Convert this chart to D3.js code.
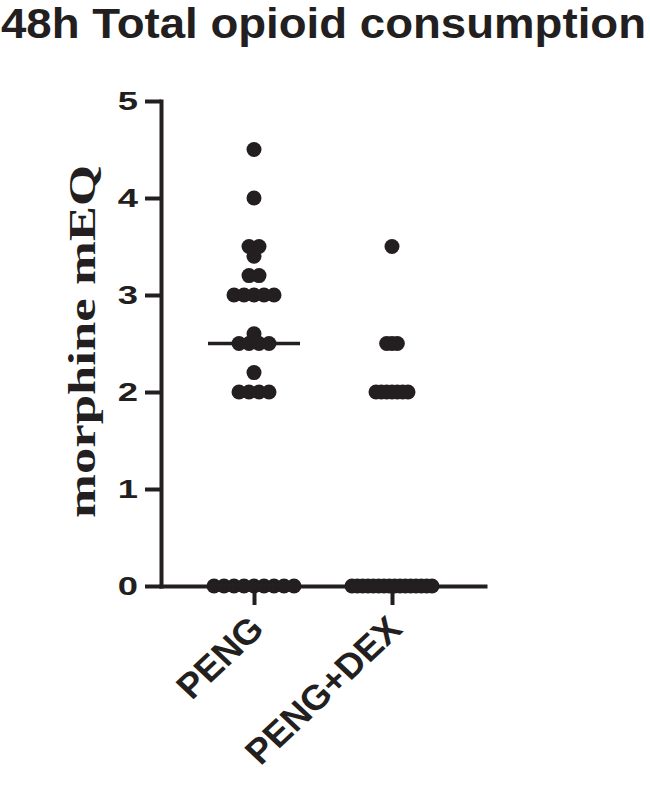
<!DOCTYPE html>
<html>
<head>
<meta charset="utf-8">
<script src="https://cdn.jsdelivr.net/npm/d3@7"></script>
<style>
  body { margin: 0; background: #fff; }
  svg { display: block; }
</style>
</head>
<body>
<div id="chart"></div>
<script>
// data (morphine mEQ, 48h)
const groups = ["PENG", "PENG+DEX"]
const peng = [4.5, 4.0, 3.5, 3.5, 3.4, 3.2, 3.2, 3.0, 3.0, 3.0, 3.0, 3.0, 2.6,
  2.5, 2.5, 2.5, 2.5, 2.2, 2.0, 2.0, 2.0, 2.0, 0, 0, 0, 0, 0, 0, 0, 0, 0]
const pengDex = [3.5, 2.5, 2.5, 2.5, 2.0, 2.0, 2.0, 2.0, 2.0, 2.0, 2.0,
  0, 0, 0, 0, 0, 0, 0, 0, 0, 0, 0, 0, 0, 0, 0, 0]
const yTicks = [0, 1, 2, 3, 4, 5]

const width = 650, height = 791
const ink = "#231f20"
const r = 7.5

const svg = d3.select("#chart").append("svg")
  .attr("width", width)
  .attr("height", height)

const yScale = d3.scaleLinear().domain([0, 5]).range([586, 101])
const xScale = d3.scalePoint().domain(groups).range([161, 485]).padding(0.674)

/* title + y label */
svg.append("text")
  .attr("x", 1).attr("y", 38)
  .attr("font-family", "Liberation Sans, Arial, sans-serif")
  .attr("font-weight", "bold")
  .attr("font-size", 43)
  .attr("textLength", 645)
  .attr("lengthAdjust", "spacingAndGlyphs")
  .attr("fill", ink)
  .text("48h Total opioid consumption")

svg.append("text")
  .attr("transform", `translate(95,${(165 + 518) / 2}) rotate(-90)`)
  .attr("text-anchor", "middle")
  .attr("font-family", "Liberation Serif, Times New Roman, serif")
  .attr("font-weight", "bold")
  .attr("font-size", 37)
  .attr("textLength", 353)
  .attr("lengthAdjust", "spacingAndGlyphs")
  .attr("fill", ink)
  .text("morphine mEQ")

/* axes */
const yAxis = d3.axisLeft(yScale).tickValues(yTicks).tickFormat(d3.format("d"))
  .tickSize(16).tickPadding(6).tickSizeOuter(0)
const xAxis = d3.axisBottom(xScale).tickSize(19).tickSizeOuter(0).tickFormat("")

const gy = svg.append("g").attr("transform", "translate(161,0)").call(yAxis)
const gx = svg.append("g").attr("transform", "translate(0,586)").call(xAxis)

for (const g of [gx, gy]) {
  g.select(".domain").attr("stroke", ink).attr("stroke-width", 4).attr("stroke-linecap", "square")
  g.selectAll(".tick line").attr("stroke", ink).attr("stroke-width", 4)
}
// digits in the figure are drawn wide, so stretch them sideways
const stretch = 1.4
gy.selectAll(".tick text")
  .attr("x", -23 / stretch)
  .attr("transform", `scale(${stretch},1)`)
  .attr("font-family", "Liberation Sans, Arial, sans-serif")
  .attr("font-weight", "bold")
  .attr("font-size", 26)
  .attr("fill", ink)

// rotated group labels
svg.selectAll(".glabel")
  .data(groups)
  .enter().append("text")
  .attr("class", "glabel")
  .attr("transform", d => `translate(${xScale(d) + 12},${631}) scale(1.06,1) rotate(-45)`)
  .attr("text-anchor", "end")
  .attr("font-family", "Liberation Sans, Arial, sans-serif")
  .attr("font-weight", "bold")
  .attr("font-size", 35)
  .attr("fill", ink)
  .text(d => d)

/* dot layout: each row of equal values is laid out as a centred block,
   shifted sideways if it hits a row already placed */
function swarm(values, cx) {
  const rows = d3.groups(values, v => v).sort((a, b) => b[0] - a[0])
  const maxRow = d3.max(rows, d => d[1].length)
  const step = Math.min(10, 80 / Math.max(1, maxRow - 1))
  const placed = []
  const out = []
  rows.forEach(([v, list]) => {
    const n = list.length
    const y = yScale(v)
    let shift = 0
    for (let k = 0; k < 40; k++) {
      const c = (k % 2 ? 1 : -1) * Math.ceil(k / 2) * step / 2
      const xs = d3.range(n).map(i => cx + c + (i - (n - 1) / 2) * step)
      const hit = xs.some(x => placed.some(p => Math.hypot(p.x - x, p.y - y) < 10))
      if (!hit) { shift = c; break }
    }
    const xs = d3.range(n).map(i => cx + shift + (i - (n - 1) / 2) * step)
    xs.forEach(x => { out.push({ x, y, v }) })
    xs.forEach(x => placed.push({ x, y }))
  })
  return out
}

const series = [peng, pengDex]
series.forEach((vals, i) => {
  const cx = xScale(groups[i])
  const med = d3.median(vals)
  svg.append("line")
    .attr("x1", cx - 46).attr("x2", cx + 46)
    .attr("y1", yScale(med)).attr("y2", yScale(med))
    .attr("stroke", ink).attr("stroke-width", 3.5)

  svg.append("g").selectAll("circle")
    .data(swarm(vals, cx))
    .enter().append("circle")
    .attr("cx", d => d.x)
    .attr("cy", d => d.y)
    .attr("r", r)
    .attr("fill", ink)
})
</script>
</body>
</html>
